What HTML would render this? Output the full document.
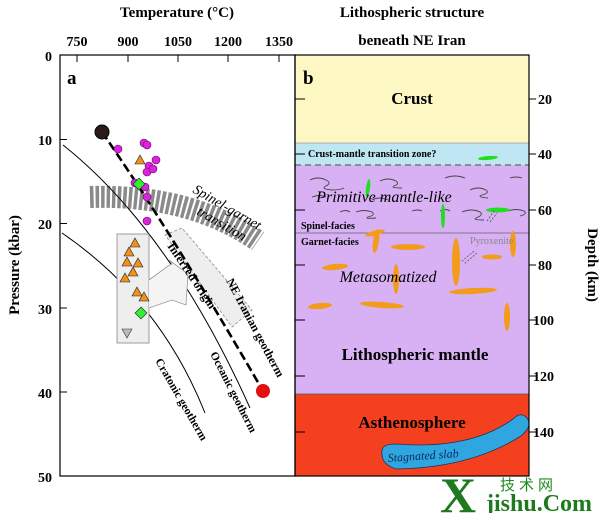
<!DOCTYPE html>
<html><head><meta charset="utf-8"><style>
html,body{margin:0;padding:0;background:#fff;}
svg{display:block;font-family:"Liberation Serif","Noto Serif CJK SC",serif;}
</style></head><body>
<svg width="600" height="513" viewBox="0 0 600 513" xmlns="http://www.w3.org/2000/svg">
<text x="177" y="17" font-size="15" font-weight="bold" text-anchor="middle">Temperature (°C)</text>
<text x="412" y="17" font-size="15" font-weight="bold" text-anchor="middle">Lithospheric structure</text>
<text x="412" y="45" font-size="15" font-weight="bold" text-anchor="middle">beneath NE Iran</text>
<g font-size="14" font-weight="bold" text-anchor="middle">
<text x="77" y="46">750</text><text x="128" y="46">900</text><text x="178" y="46">1050</text><text x="228" y="46">1200</text><text x="279" y="46">1350</text>
</g>
<g font-size="14" font-weight="bold" text-anchor="end">
<text x="52" y="61">0</text><text x="52" y="145">10</text><text x="52" y="229">20</text><text x="52" y="314">30</text><text x="52" y="398">40</text><text x="52" y="482">50</text>
</g>
<text transform="translate(19,265) rotate(-90)" font-size="15" font-weight="bold" text-anchor="middle">Pressure (kbar)</text>
<g font-size="14" font-weight="bold">
<text x="538" y="104">20</text><text x="538" y="159">40</text><text x="538" y="215">60</text><text x="538" y="270">80</text><text x="533" y="325">100</text><text x="533" y="381">120</text><text x="533" y="437">140</text>
</g>
<text transform="translate(588,265) rotate(90)" font-size="15" font-weight="bold" text-anchor="middle">Depth (km)</text>

<rect x="295" y="55" width="234" height="88" fill="#fdf7c4"/>
<rect x="295" y="143" width="234" height="22" fill="#bfe6f3"/>
<rect x="295" y="165" width="234" height="229" fill="#d7b1f3"/>
<rect x="295" y="394" width="234" height="82" fill="#f5401f"/>
<line x1="295" y1="165" x2="529" y2="165" stroke="#777" stroke-width="1.5" stroke-dasharray="6,4"/>
<line x1="295" y1="143" x2="529" y2="143" stroke="#999" stroke-width="0.8"/>
<line x1="295" y1="394" x2="529" y2="394" stroke="#555" stroke-width="0.8"/>
<line x1="295" y1="233" x2="529" y2="233" stroke="#666" stroke-width="0.8"/>

<g fill="none" stroke="#444" stroke-width="0.9">
<path d="M310,180 q8,-4 16,0 q6,3 0,6 q-6,3 6,4 q8,0 12,-2"/>
<path d="M380,181 q8,-4 16,0 q4,3 -2,5 q-4,2 8,2"/>
<path d="M445,178 q10,-4 20,0"/>
<path d="M510,178 q6,-2 12,0"/>
<path d="M312,197 q8,-3 14,0"/>
<path d="M356,212 q8,-3 16,0 q4,3 -4,5 q-4,2 8,1"/>
<path d="M372,200 q8,-4 16,0"/>
<path d="M470,190 q8,-4 16,0 q4,3 -4,5 q-6,2 6,3"/>
<path d="M340,212 q6,-3 10,0"/>
<path d="M412,211 q6,-2 10,0"/>
<path d="M440,211 q6,-3 10,0"/>
<path d="M462,212 q10,-4 18,0 q4,3 -4,6 q-4,2 8,2"/>
<path d="M508,211 q8,-3 16,0 q4,3 -4,5"/>
</g>
<g fill="#22dd22">
<ellipse cx="488" cy="158" rx="10" ry="2" transform="rotate(-5 488 158)"/>
<ellipse cx="368" cy="188" rx="2" ry="9" transform="rotate(8 368 188)"/>
<ellipse cx="443" cy="216" rx="2" ry="12"/>
<ellipse cx="498" cy="210" rx="12" ry="2.5"/>
</g>
<g fill="#f39c1c">
<ellipse cx="375" cy="233" rx="10" ry="2.5" transform="rotate(-15 375 233)"/>
<ellipse cx="376" cy="241" rx="3" ry="12" transform="rotate(8 376 241)"/>
<ellipse cx="408" cy="247" rx="17" ry="3"/>
<ellipse cx="456" cy="262" rx="4" ry="24"/>
<ellipse cx="513" cy="244" rx="3" ry="13"/>
<ellipse cx="492" cy="257" rx="10" ry="2.5"/>
<ellipse cx="335" cy="267" rx="13" ry="3" transform="rotate(-5 335 267)"/>
<ellipse cx="396" cy="279" rx="3" ry="15"/>
<ellipse cx="473" cy="291" rx="24" ry="3" transform="rotate(-3 473 291)"/>
<ellipse cx="320" cy="306" rx="12" ry="3" transform="rotate(-5 320 306)"/>
<ellipse cx="382" cy="305" rx="22" ry="3" transform="rotate(4 382 305)"/>
<ellipse cx="507" cy="317" rx="3" ry="14"/>
</g>
<g fill="none" stroke="#555" stroke-width="0.8" stroke-dasharray="2,1.5">
<path d="M487,221 L494,211 M490,222 L497,213"/>
<path d="M474,251 L461,262 M477,253 L464,264"/>
</g>
<text x="470" y="244" font-size="10" fill="#888">Pyroxenite</text>
<text x="412" y="104" font-size="17" font-weight="bold" text-anchor="middle">Crust</text>
<text x="308" y="157" font-size="10" font-weight="bold">Crust-mantle transition zone?</text>
<text x="384" y="202" font-size="16" font-style="italic" text-anchor="middle">Primitive mantle-like</text>
<text x="301" y="229" font-size="10" font-weight="bold">Spinel-facies</text>
<text x="301" y="245" font-size="10" font-weight="bold">Garnet-facies</text>
<text x="388" y="282" font-size="16" font-style="italic" text-anchor="middle">Metasomatized</text>
<text x="415" y="360" font-size="17" font-weight="bold" text-anchor="middle">Lithospheric mantle</text>
<text x="412" y="428" font-size="17" font-weight="bold" text-anchor="middle">Asthenosphere</text>
<path d="M382,450 Q380,464 396,469 Q470,468 521,436 Q533,426 527,418 Q521,411 513,419 Q470,450 396,444 Q383,444 382,450 Z" fill="#30a6e0" stroke="#235" stroke-width="0.8"/>
<text x="388" y="462" font-size="12" font-style="italic" fill="#0a2a5a" transform="rotate(-4 388 462)">Stagnated slab</text>

<g stroke="#000" stroke-width="1">
<path d="M295,99h10M295,154h10M295,210h10M295,265h10M295,320h10M295,376h10M295,432h10"/>
<path d="M529,99h7M529,154h7M529,210h7M529,265h7M529,320h7M529,376h7M529,432h7"/>
</g>
<rect x="295" y="55" width="234" height="421" fill="none" stroke="#000" stroke-width="1.2"/>

<rect x="60" y="55" width="235" height="421" fill="none" stroke="#000" stroke-width="1.2"/>
<g stroke="#000" stroke-width="1">
<path d="M77,55v7M128,55v7M178,55v7M228,55v7M279,55v7"/>
<path d="M60,139.5h7M60,223.5h7M60,308h7M60,392h7"/>
</g>
<text x="67" y="84" font-size="19" font-weight="bold">a</text>
<text x="303" y="84" font-size="19" font-weight="bold">b</text>

<path d="M90,197 Q190,194 258,241" fill="none" stroke="#8a8a8a" stroke-width="22" stroke-dasharray="3.5,2"/>
<text x="192" y="192" font-size="14" font-style="italic" transform="rotate(30 192 192)">Spinel-garnet</text>
<text x="196" y="214" font-size="14" font-style="italic" transform="rotate(30 196 214)">transition</text>

<path d="M165,235 L182,228 L252,310 L232,327 Z" fill="#eeeeee" stroke="#888" stroke-width="0.8" stroke-dasharray="3,2"/>
<path d="M63,145 Q170,230 250,408" fill="none" stroke="#000" stroke-width="1"/>
<path d="M62,233 Q160,300 205,413" fill="none" stroke="#000" stroke-width="1"/>
<rect x="117" y="234" width="32" height="109" fill="#eeeeee" stroke="#888" stroke-width="0.8"/>
<path d="M149,280 L168,266 L172,264 L169,260 L188,274 L186,305 L172,300 L149,308" fill="#f4f4f4" stroke="#999" stroke-width="0.8"/>
<path d="M102,132 Q170,230 263,391" fill="none" stroke="#000" stroke-width="2.6" stroke-dasharray="9,4"/>
<text x="167" y="246" font-size="12" font-weight="bold" transform="rotate(56 167 246)">Inferred origin</text>
<text x="226" y="281" font-size="12" font-weight="bold" transform="rotate(62 226 281)">NE Iranian geotherm</text>
<text x="210" y="354" font-size="11.5" font-weight="bold" transform="rotate(63 210 354)">Oceanic geotherm</text>
<text x="155" y="361" font-size="11.5" font-weight="bold" transform="rotate(60 155 361)">Cratonic geotherm</text>

<circle cx="102" cy="132" r="7" fill="#2a1a1a" stroke="#000"/>
<circle cx="263" cy="391" r="7" fill="#e21010"/>
<g fill="#dd22dd" stroke="#551155" stroke-width="0.6">
<circle cx="144" cy="143" r="4"/><circle cx="147" cy="145" r="4"/><circle cx="118" cy="149" r="4"/>
<circle cx="156" cy="160" r="4"/><circle cx="149" cy="166" r="4"/><circle cx="147" cy="172" r="4"/>
<circle cx="153" cy="169" r="4"/><circle cx="135" cy="183" r="4"/><circle cx="145" cy="187" r="4"/>
<circle cx="147" cy="197" r="4"/><circle cx="147" cy="221" r="4"/>
</g>
<g fill="#f2901c" stroke="#222" stroke-width="0.6">
<path d="M140,155 l5,9 h-10z"/>
<path d="M135,238 l5,9 h-10z"/><path d="M129,247 l5,9 h-10z"/><path d="M127,257 l5,9 h-10z"/>
<path d="M138,258 l5,9 h-10z"/><path d="M133,267 l5,9 h-10z"/><path d="M125,273 l5,9 h-10z"/>
<path d="M137,287 l5,9 h-10z"/><path d="M144,292 l5,9 h-10z"/>
</g>
<path d="M139,178 l6,6 l-6,6 l-6,-6z" fill="#33ee33" stroke="#222" stroke-width="0.6"/>
<path d="M141,307 l6,6 l-6,6 l-6,-6z" fill="#33ee33" stroke="#222" stroke-width="0.6"/>
<path d="M122,329 h10 l-5,9z" fill="#bbb" stroke="#333" stroke-width="0.6"/>

<text x="440" y="512" font-size="50" font-weight="bold" fill="#1f7a1f">X</text>
<text x="486" y="511" font-size="24" font-weight="bold" fill="#1f7a1f">jishu.Com</text>
<text x="500" y="490" font-size="15" fill="#1f8a1f" font-family="Noto Sans CJK SC, sans-serif" letter-spacing="4">技术网</text>
</svg>
</body></html>
